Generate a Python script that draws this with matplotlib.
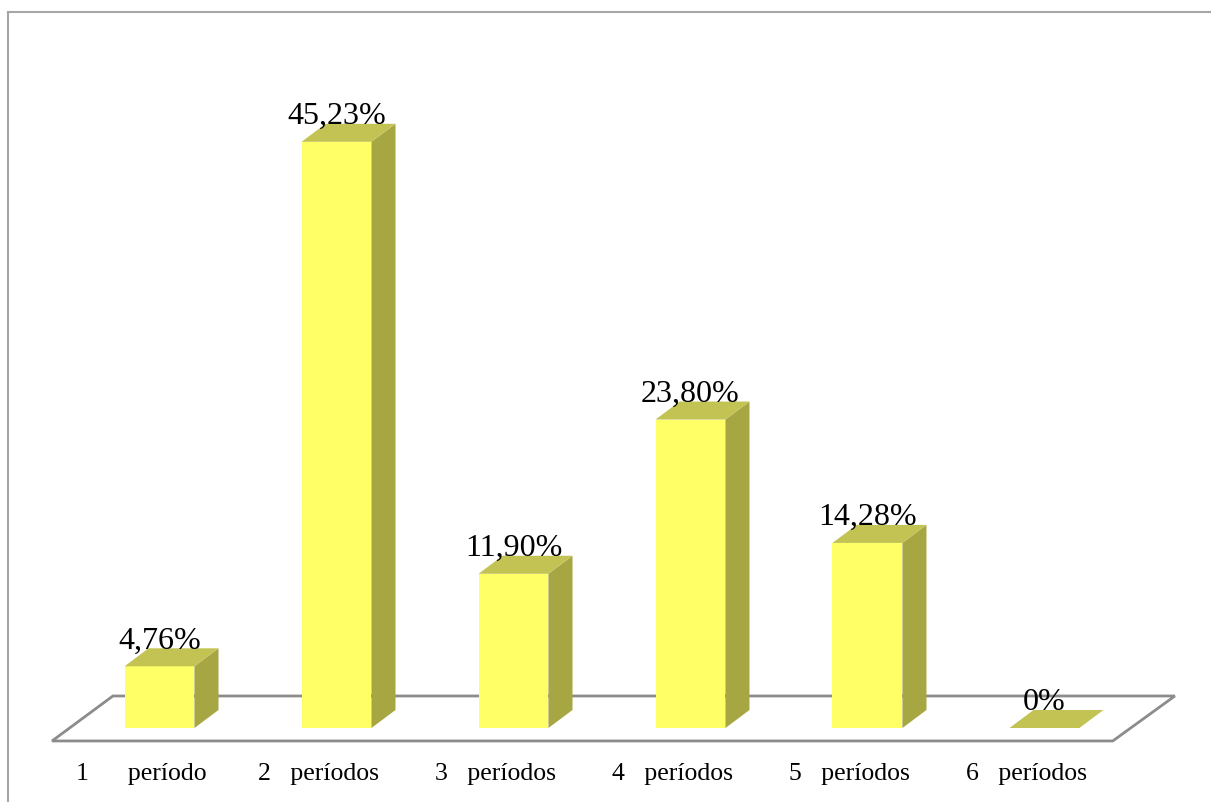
import matplotlib
matplotlib.use("Agg")
import matplotlib.pyplot as plt
from matplotlib.patches import Polygon
from matplotlib.lines import Line2D

# data
categories = ["1      período", "2   períodos", "3   períodos",
              "4   períodos", "5   períodos", "6   períodos"]
values = [4.76, 45.23, 11.90, 23.80, 14.28, 0.0]
labels = ["4,76%", "45,23%", "11,90%", "23,80%", "14,28%", "0%"]

FRONT = "#ffff66"
TOP = "#c3c354"
SIDE = "#a6a642"
EDGE = "#8c8c8c"

W = 0.395          # bar width in category units
DX, DY = 0.136, 1.39   # depth offset (x in categories, y in percent)

fig = plt.figure(figsize=(12.11, 8.03), dpi=100)
ax = fig.add_axes([0, 0, 1, 1])
ax.set_xlim(-0.901, 5.941)
ax.set_ylim(-5.71, 56.25)
ax.axis("off")

# floor of the 3d plot
fl = [(-0.607, -1.0), (5.386, -1.0), (5.737, 2.47), (-0.263, 2.47)]
ax.add_patch(Polygon(fl, closed=True, facecolor="white", edgecolor=EDGE,
                     linewidth=2, zorder=1))

for i, v in enumerate(values):
    x0, x1 = i - W / 2, i + W / 2
    if v > 0:
        front = [(x0, 0), (x1, 0), (x1, v), (x0, v)]
        side = [(x1, 0), (x1 + DX, DY), (x1 + DX, v + DY), (x1, v)]
        ax.add_patch(Polygon(side, closed=True, facecolor=SIDE,
                             edgecolor="none", zorder=2))
        ax.add_patch(Polygon(front, closed=True, facecolor=FRONT,
                             edgecolor="none", zorder=3))
    top = [(x0, v), (x1, v), (x1 + DX, v + DY), (x0 + DX, v + DY)]
    ax.add_patch(Polygon(top, closed=True, facecolor=TOP,
                         edgecolor="none", zorder=3))
    ax.text(i + 0.0, v + DY + 0.05, labels[i], ha="center", va="baseline",
            fontsize=23, family="Liberation Serif", zorder=4)

for i, c in enumerate(categories):
    ax.text(i - 0.1, -3.5, c, ha="center", va="center",
            fontsize=18.5, family="Liberation Serif")

# chart area border (top and left)
fig.add_artist(Line2D([8 / 1211, 1], [1 - 13 / 803, 1 - 13 / 803],
                      color="#a6a6a6", linewidth=1.5))
fig.add_artist(Line2D([8 / 1211, 8 / 1211], [0, 1 - 13 / 803],
                      color="#a6a6a6", linewidth=1.5))

fig.savefig("out.png", dpi=100)
